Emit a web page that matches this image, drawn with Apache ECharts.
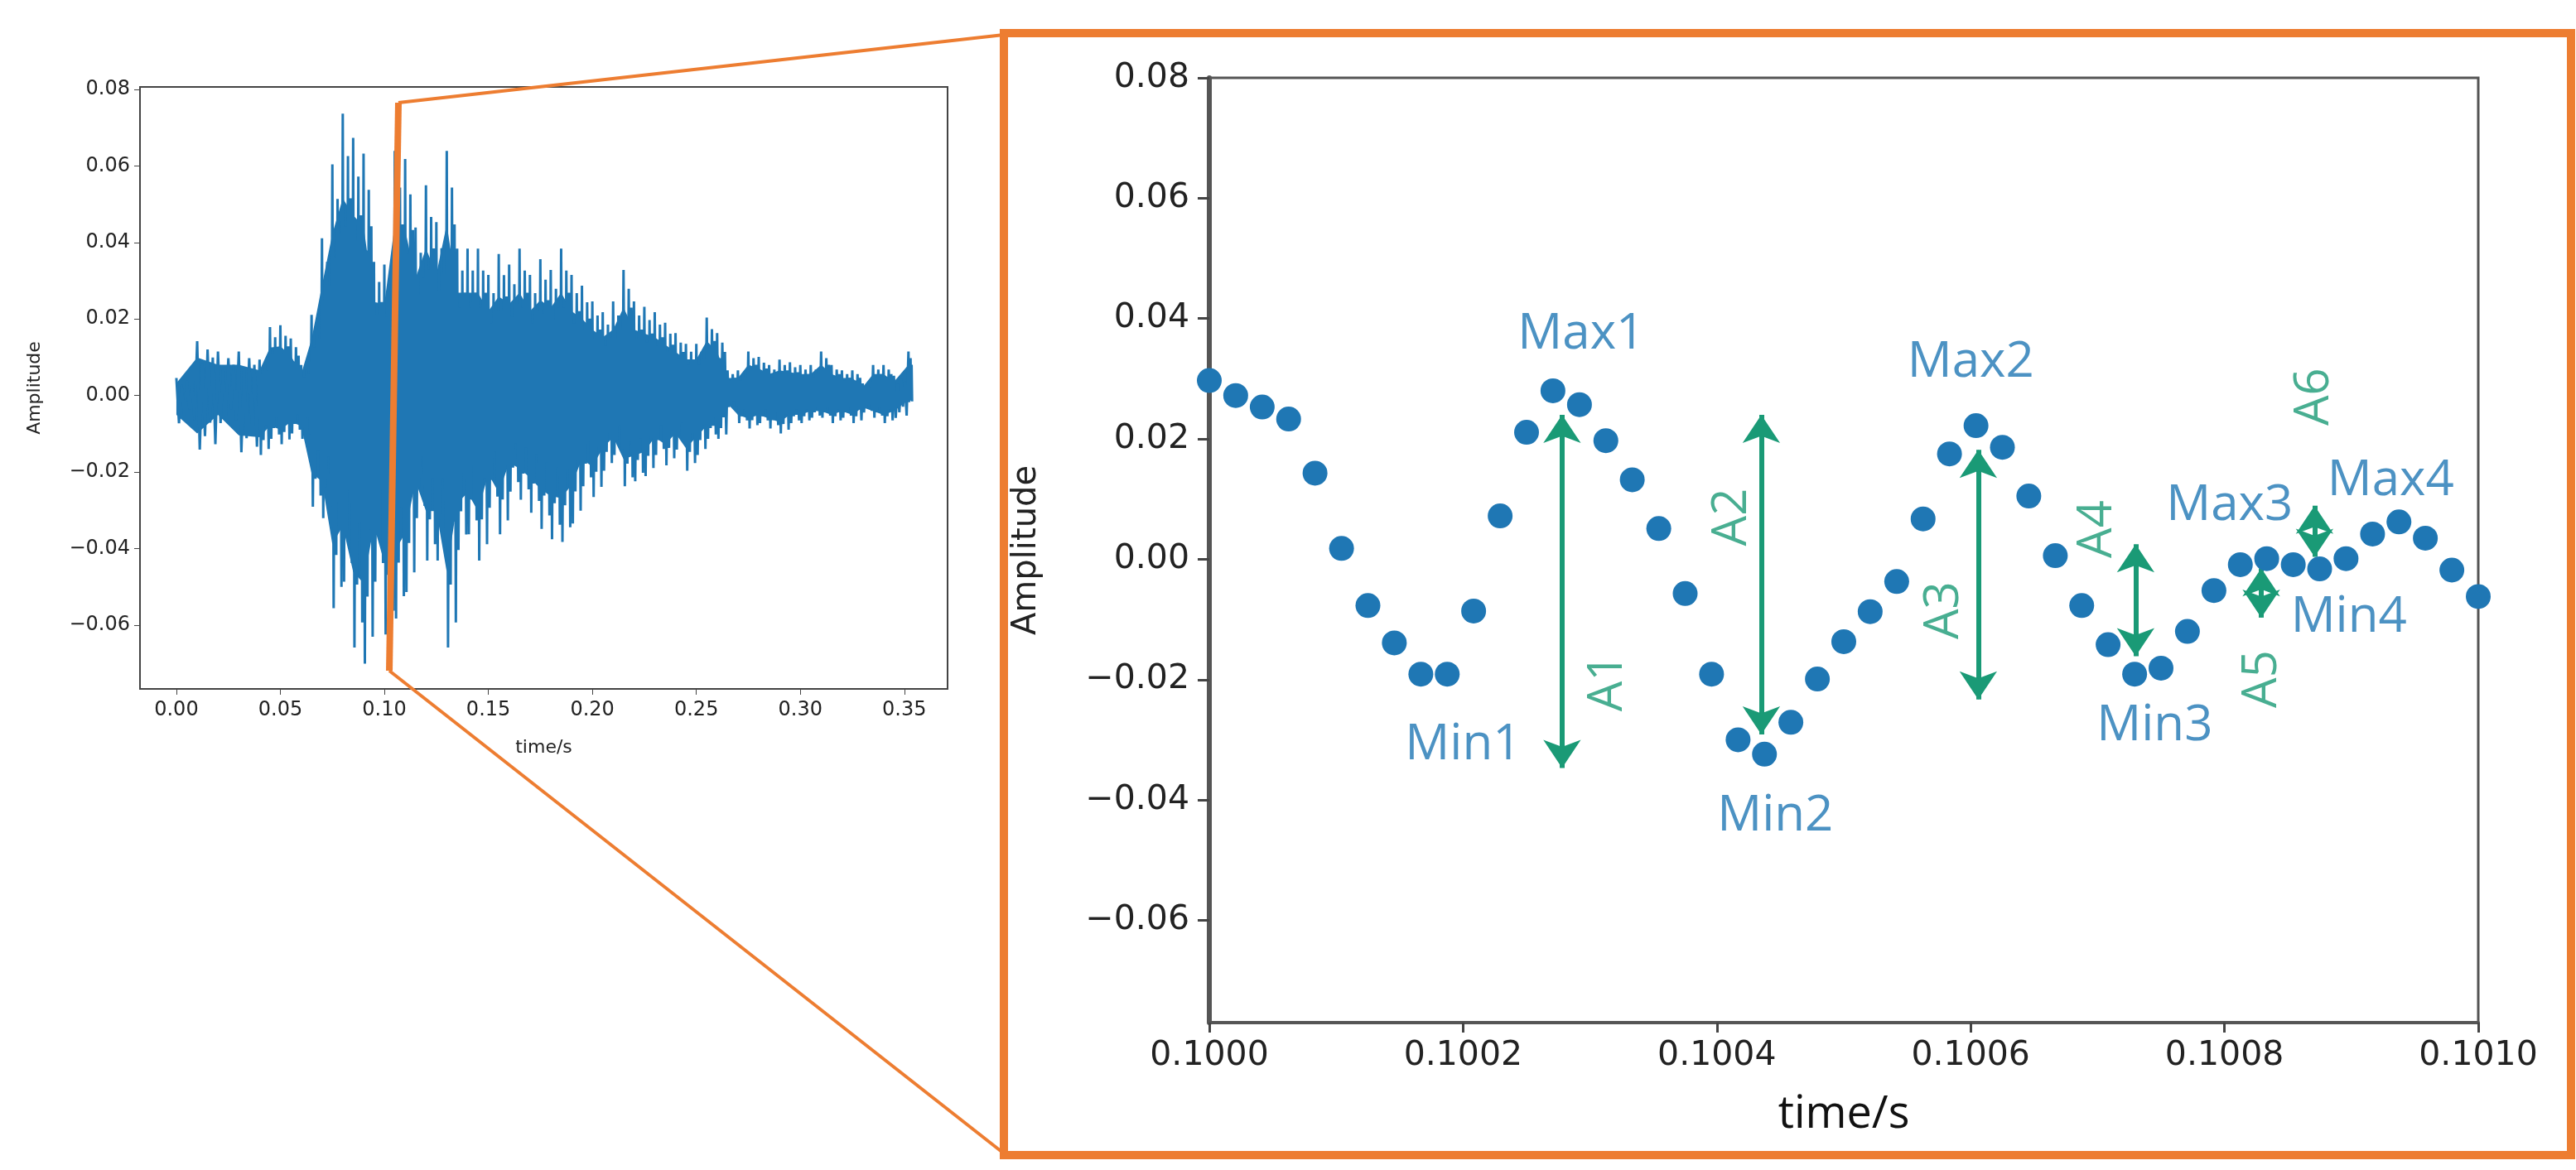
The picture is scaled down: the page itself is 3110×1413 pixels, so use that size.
<!DOCTYPE html>
<html>
<head>
<meta charset="utf-8">
<script src="https://cdn.jsdelivr.net/npm/echarts@6/dist/echarts.min.js"></script>
<style>
  html, body { margin: 0; padding: 0; background: #fff; }
  #chart { width: 3110px; height: 1413px; }
</style>
</head>
<body>
<div id="chart"></div>
<script>
// overview waveform: envelope
const envTimes = [0, 0.01, 0.02, 0.03, 0.04, 0.045, 0.05, 0.055, 0.06, 0.065, 0.07, 0.075, 0.08, 0.085, 0.09,
  0.095, 0.1, 0.105, 0.11, 0.115, 0.12, 0.125, 0.13, 0.135, 0.14, 0.145, 0.15, 0.155, 0.16, 0.165, 0.17,
  0.175, 0.18, 0.185, 0.19, 0.195, 0.2, 0.205, 0.21, 0.215, 0.22, 0.225, 0.23, 0.235, 0.24, 0.245, 0.25,
  0.255, 0.26, 0.265, 0.27, 0.275, 0.28, 0.285, 0.29, 0.295, 0.3, 0.305, 0.31, 0.315, 0.32, 0.325, 0.33,
  0.335, 0.34, 0.345, 0.352];
const envUpper = [0.0046, 0.0142, 0.0115, 0.0115, 0.0094, 0.0179, 0.0184, 0.0149, 0.0080, 0.0211, 0.0411,
  0.0604, 0.0736, 0.0673, 0.0632, 0.0349, 0.0342, 0.0639, 0.0618, 0.0439, 0.0549, 0.0453, 0.0639, 0.0384,
  0.0384, 0.0384, 0.0315, 0.0370, 0.0342, 0.0384, 0.0315, 0.0356, 0.0328, 0.0384, 0.0315, 0.0287, 0.0246,
  0.0218, 0.0246, 0.0328, 0.0246, 0.0232, 0.0218, 0.0190, 0.0163, 0.0135, 0.0135, 0.0204, 0.0163, 0.0066,
  0.0066, 0.0115, 0.0101, 0.0080, 0.0094, 0.0087, 0.0080, 0.0080, 0.0115, 0.0080, 0.0066, 0.0066, 0.0032,
  0.0080, 0.0080, 0.0052, 0.0115];
const envLower = [-0.0072, -0.0141, -0.0072, -0.0148, -0.0155, -0.0113, -0.0127, -0.0099, -0.0113, -0.0290,
  -0.0320, -0.0555, -0.0486, -0.0658, -0.0700, -0.0486, -0.0624, -0.0582, -0.0513, -0.0320, -0.0431, -0.0431,
  -0.0658, -0.0403, -0.0362, -0.0431, -0.0293, -0.0362, -0.0251, -0.0272, -0.0306, -0.0348, -0.0375, -0.0382,
  -0.0334, -0.0237, -0.0265, -0.0196, -0.0155, -0.0237, -0.0224, -0.0210, -0.0155, -0.0182, -0.0141, -0.0196,
  -0.0155, -0.0113, -0.0113, -0.0030, -0.0072, -0.0086, -0.0072, -0.0086, -0.0099, -0.0072, -0.0072, -0.0058,
  -0.0058, -0.0072, -0.0058, -0.0072, -0.0044, -0.0058, -0.0072, -0.0058, -0.0017];

// zoomed samples (48 kHz) between 0.1000 s and 0.1010 s
const zoomTimes = [0.1, 0.1000208, 0.1000417, 0.1000625, 0.1000833, 0.1001042, 0.100125, 0.1001458, 0.1001667,
  0.1001875, 0.1002083, 0.1002292, 0.10025, 0.1002708, 0.1002917, 0.1003125, 0.1003333, 0.1003542, 0.100375,
  0.1003958, 0.1004167, 0.1004375, 0.1004583, 0.1004792, 0.1005, 0.1005208, 0.1005417, 0.1005625, 0.1005833,
  0.1006042, 0.100625, 0.1006458, 0.1006667, 0.1006875, 0.1007083, 0.1007292, 0.10075, 0.1007708, 0.1007917,
  0.1008125, 0.1008333, 0.1008542, 0.100875, 0.1008958, 0.1009167, 0.1009375, 0.1009583, 0.1009792, 0.101];
const zoomValues = [0.0297, 0.0272, 0.0253, 0.0233, 0.0143, 0.0018, -0.0077, -0.0139, -0.0191, -0.0191, -0.0086,
  0.0072, 0.0211, 0.0280, 0.0257, 0.0197, 0.0132, 0.0051, -0.0057, -0.0191, -0.0300, -0.0324, -0.0271, -0.0199,
  -0.0137, -0.0087, -0.0037, 0.0067, 0.0175, 0.0222, 0.0186, 0.0105, 0.0006, -0.0077, -0.0142, -0.0191, -0.0181,
  -0.0120, -0.0052, -0.0009, 0.0001, -0.0009, -0.0016, 0.0001, 0.0042, 0.0062, 0.0035, -0.0018, -0.0062];

// extrema labels
const extremaNames = ['Max1', 'Min1', 'Max2', 'Min2', 'Min3', 'Max3', 'Max4', 'Min4'];
const extremaTimes = [0.100293, 0.1002, 0.1006, 0.100446, 0.100745, 0.100804, 0.100931, 0.100898];
const extremaValues = [0.0373, -0.0309, 0.0327, -0.0427, -0.0277, 0.0089, 0.0130, -0.0097];

// amplitude arrows
const ampNames = ['A1', 'A2', 'A3', 'A4', 'A5', 'A6'];
const ampTimes = [0.100278, 0.100435, 0.100606, 0.10073, 0.100829, 0.100871];
const ampTop = [0.0240, 0.0240, 0.0182, 0.0025, -0.0015, 0.0089];
const ampBottom = [-0.0347, -0.0291, -0.0233, -0.0161, -0.0097, 0.0004];
const ampLabelTimes = [0.100314, 0.100412, 0.100579, 0.1007, 0.100830, 0.100871];
const ampLabelValues = [-0.0205, 0.0070, -0.0085, 0.0050, -0.0199, 0.0270];

const blue = '#1f77b4';
const green = '#1a9a76';
const orange = '#ed7d31';
const axisText = '#222';
const minus = v => (v < 0 ? '\u2212' : '') + Math.abs(v).toFixed(2);

// zig-zag trace between the envelope values so the waveform reads as a dense line
const waveData = [];
for (let i = 0; i < envTimes.length; i++) {
  const next = i + 1 < envTimes.length ? envTimes[i + 1] : envTimes[i] + 0.002;
  const step = (next - envTimes[i]) / 8;
  const scale = [1, 1, 0.6, 0.75, 0.85, 0.5, 0.7, 0.9];
  for (let k = 0; k < 8; k++) {
    const v = k % 2 === 0 ? envUpper[i] : envLower[i];
    waveData.push([envTimes[i] + k * step, v * scale[k]]);
  }
}

// solid core of the waveform, drawn as one polygon through the axis scales
function renderBand(params, api) {
  const pts = [];
  for (let i = 0; i < envTimes.length; i++) pts.push(api.coord([envTimes[i], envUpper[i] * 0.7]));
  for (let i = envTimes.length - 1; i >= 0; i--) pts.push(api.coord([envTimes[i], envLower[i] * 0.7]));
  return { type: 'polygon', shape: { points: pts }, style: { fill: blue } };
}

const chart = echarts.init(document.getElementById('chart'));

const smallTicks = [0, 0.05, 0.1, 0.15, 0.2, 0.25, 0.3, 0.35];
const smallY = [-0.06, -0.04, -0.02, 0, 0.02, 0.04, 0.06, 0.08];

chart.setOption({
  animation: false,
  backgroundColor: '#fff',
  grid: [
    { left: 169, top: 105, width: 975, height: 727, show: true, borderColor: '#444', borderWidth: 2 },
    { left: 1460, top: 94, width: 1532, height: 1141, show: true, borderColor: '#555', borderWidth: 3 }
  ],
  xAxis: [
    {
      gridIndex: 0, type: 'value', min: -0.0175, max: 0.3708,
      name: 'time/s', nameLocation: 'middle', nameGap: 60,
      nameTextStyle: { fontFamily: 'DejaVu Sans', fontSize: 22, color: axisText },
      axisLine: { onZero: false, lineStyle: { color: '#444', width: 2 } },
      axisTick: { show: true, customValues: smallTicks, length: 7, lineStyle: { color: '#444' } },
      axisLabel: { customValues: smallTicks, formatter: v => v.toFixed(2), fontFamily: 'DejaVu Sans', fontSize: 24, color: axisText, margin: 14 },
      splitLine: { show: false }
    },
    {
      gridIndex: 1, type: 'value', min: 0.1, max: 0.101, interval: 0.0002,
      name: 'time/s', nameLocation: 'middle', nameGap: 85,
      nameTextStyle: { fontFamily: 'Open Sans', fontSize: 54, color: '#111' },
      axisLine: { onZero: false, lineStyle: { color: '#555', width: 4 } },
      axisTick: { show: true, length: 12, lineStyle: { color: '#444', width: 3 } },
      axisLabel: { formatter: v => v.toFixed(4), fontFamily: 'DejaVu Sans', fontSize: 41, color: axisText, margin: 20 },
      splitLine: { show: false }
    }
  ],
  yAxis: [
    {
      gridIndex: 0, type: 'value', min: -0.0766, max: 0.0806,
      name: 'Amplitude', nameLocation: 'middle', nameGap: 116,
      nameTextStyle: { fontFamily: 'DejaVu Sans', fontSize: 22, color: axisText },
      axisLine: { onZero: false, lineStyle: { color: '#444', width: 2 } },
      axisTick: { show: true, customValues: smallY, length: 7, lineStyle: { color: '#444' } },
      axisLabel: { customValues: smallY, formatter: minus, fontFamily: 'DejaVu Sans', fontSize: 24, color: axisText, margin: 12 },
      splitLine: { show: false }
    },
    {
      gridIndex: 1, type: 'value', min: -0.077, max: 0.08,
      name: 'Amplitude', nameLocation: 'middle', nameGap: 200,
      nameTextStyle: { fontFamily: 'DejaVu Sans', fontSize: 40, color: axisText },
      axisLine: { onZero: false, lineStyle: { color: '#555', width: 6 } },
      axisTick: { show: true, customValues: smallY, length: 14, lineStyle: { color: '#444', width: 3 } },
      axisLabel: { customValues: smallY, formatter: minus, fontFamily: 'DejaVu Sans', fontSize: 41, color: axisText, margin: 24 },
      splitLine: { show: false }
    }
  ],
  series: [
    {
      type: 'custom', xAxisIndex: 0, yAxisIndex: 0, data: [[0, 0]],
      renderItem: renderBand, silent: true, clip: true
    },
    {
      type: 'line', xAxisIndex: 0, yAxisIndex: 0, data: waveData,
      showSymbol: false, lineStyle: { color: blue, width: 3 }
    },
    {
      type: 'scatter', xAxisIndex: 1, yAxisIndex: 1,
      data: zoomTimes.map((t, i) => [t, zoomValues[i]]),
      symbolSize: 30, itemStyle: { color: blue, opacity: 1 }, clip: false
    },
    {
      type: 'lines', coordinateSystem: 'cartesian2d', xAxisIndex: 1, yAxisIndex: 1,
      symbol: ['arrow', 'arrow'], symbolSize: 34,
      lineStyle: { color: green, width: 6, opacity: 1 },
      data: ampNames.map((n, i) => ({ coords: [[ampTimes[i], ampTop[i]], [ampTimes[i], ampBottom[i]]] }))
    },
    {
      type: 'scatter', xAxisIndex: 1, yAxisIndex: 1, symbolSize: 0,
      data: extremaNames.map((n, i) => [extremaTimes[i], extremaValues[i], n]),
      label: { show: true, position: 'inside', formatter: p => p.value[2], fontFamily: 'Open Sans', fontSize: 60, color: blue }
    },
    {
      type: 'scatter', xAxisIndex: 1, yAxisIndex: 1, symbolSize: 0,
      data: ampNames.map((n, i) => [ampLabelTimes[i], ampLabelValues[i], n]),
      label: { show: true, position: 'inside', rotate: 90, formatter: p => p.value[2], fontFamily: 'Open Sans', fontSize: 58, color: green }
    }
  ],
  graphic: [
    { type: 'rect', shape: { x: 1212, y: 40, width: 1892, height: 1355 }, style: { fill: 'none', stroke: orange, lineWidth: 10 }, z: 10 },
    { type: 'polyline', shape: { points: [[1212, 42], [481, 124]] }, style: { stroke: orange, lineWidth: 4, fill: 'none' }, z: 10 },
    { type: 'polyline', shape: { points: [[481, 124], [470, 810]] }, style: { stroke: orange, lineWidth: 8, fill: 'none' }, z: 10 },
    { type: 'polyline', shape: { points: [[470, 810], [1212, 1393]] }, style: { stroke: orange, lineWidth: 4, fill: 'none' }, z: 10 }
  ]
});
</script>
</body>
</html>
